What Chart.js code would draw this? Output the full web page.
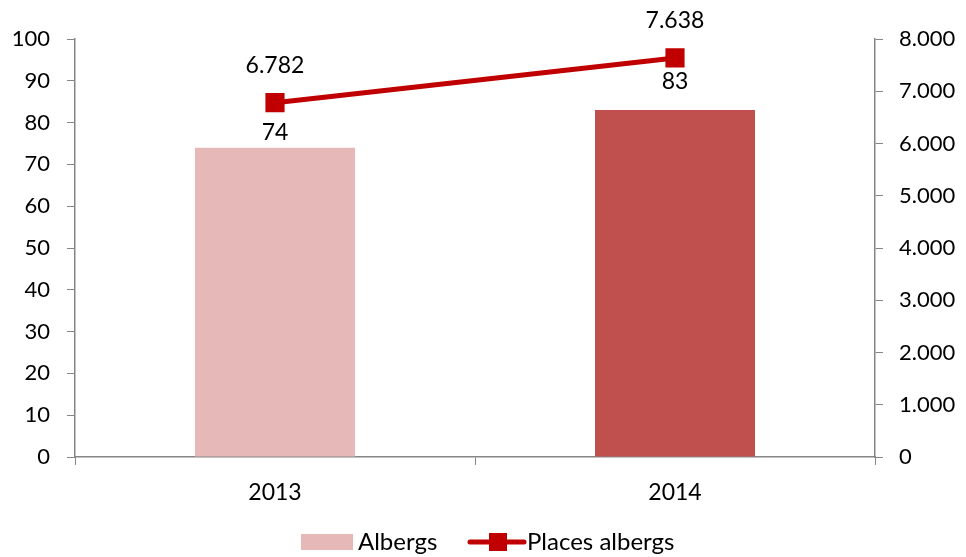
<!DOCTYPE html>
<html>
<head>
<meta charset="utf-8">
<script src="https://cdn.jsdelivr.net/npm/chart.js@4.4.1/dist/chart.umd.min.js"></script>
<style>
    html, body { margin: 0; padding: 0; background: #fff; }
    #wrap { width: 966px; height: 557px; position: relative; }
</style>
</head>
<body>
<div id="wrap"><canvas id="chart"></canvas></div>
<script>
const years = ['2013', '2014'];
const albergs = [74, 83];
const placesAlbergs = [6782, 7638];
const leftTicks = [0, 10, 20, 30, 40, 50, 60, 70, 80, 90, 100];
const rightTicks = [0, 1000, 2000, 3000, 4000, 5000, 6000, 7000, 8000];

const fontFamily = "Lato, 'Open Sans', sans-serif";
const axisColor = '#868686';
const lineColor = '#C00000';
const barColors = ['#E6B9B8', '#C0504D'];

function fmtThousands(v) {
    return v.toString().replace(/\B(?=(\d{3})+(?!\d))/g, '.');
}

// value labels on bars and line points
const valueLabels = {
    id: 'valueLabels',
    afterDatasetsDraw(chart) {
        const ctx = chart.ctx;
        ctx.save();
        ctx.font = '23px ' + fontFamily;
        ctx.fillStyle = '#000';
        ctx.textAlign = 'center';
        ctx.textBaseline = 'middle';
        const barOffsets = [15, 28];
        // dataset 0 = line, dataset 1 = bars
        chart.getDatasetMeta(1).data.forEach((el, i) => {
            ctx.fillText(albergs[i], el.x, el.y - barOffsets[i]);
        });
        chart.getDatasetMeta(0).data.forEach((el, i) => {
            ctx.fillText(fmtThousands(placesAlbergs[i]), el.x, el.y - 37);
        });
        ctx.restore();
    }
};

// legend drawn by hand: box for bars, line with square for the line series
const bottomLegend = {
    id: 'bottomLegend',
    afterDraw(chart) {
        const ctx = chart.ctx;
        const y = 542;
        ctx.save();
        ctx.font = '24px ' + fontFamily;
        ctx.textBaseline = 'middle';
        ctx.textAlign = 'left';
        ctx.fillStyle = barColors[0];
        ctx.fillRect(301, y - 8, 52, 16);
        ctx.fillStyle = '#000';
        ctx.fillText('Albergs', 358, y);
        ctx.strokeStyle = lineColor;
        ctx.lineWidth = 5;
        ctx.lineCap = 'round';
        ctx.beginPath();
        ctx.moveTo(470, y);
        ctx.lineTo(524, y);
        ctx.stroke();
        ctx.fillStyle = lineColor;
        ctx.fillRect(489, y - 9, 18, 18);
        ctx.fillStyle = '#000';
        ctx.fillText('Places albergs', 527, y);
        ctx.restore();
    }
};

Chart.defaults.font.family = fontFamily;
Chart.defaults.font.size = 22;
Chart.defaults.color = '#000';

const chart = new Chart(document.getElementById('chart'), {
    data: {
        labels: years,
        datasets: [
            {
                type: 'line',
                label: 'Places albergs',
                data: placesAlbergs,
                yAxisID: 'y2',
                borderColor: lineColor,
                backgroundColor: lineColor,
                borderWidth: 5,
                pointStyle: 'rect',
                pointRadius: 10,
                pointHoverRadius: 10,
                tension: 0,
                order: 0
            },
            {
                type: 'bar',
                label: 'Albergs',
                data: albergs,
                yAxisID: 'y',
                backgroundColor: barColors,
                categoryPercentage: 0.4,
                barPercentage: 1.0,
                order: 1
            }
        ]
    },
    options: {
        responsive: true,
        maintainAspectRatio: false,
        animation: false,
        layout: { padding: { top: 39, bottom: 50, left: 0, right: 0 } },
        plugins: {
            legend: { display: false },
            tooltip: { enabled: false }
        },
        scales: {
            x: {
                offset: true,
                grid: {
                    offset: true,
                    drawOnChartArea: false,
                    color: axisColor,
                    tickLength: 8,
                    tickColor: axisColor
                },
                border: { color: axisColor, width: 1.5 },
                ticks: { padding: 14, maxRotation: 0, font: { size: 23 } },
                afterFit(axis) { axis.height = 50; }
            },
            y: {
                position: 'left',
                min: 0,
                max: 100,
                afterBuildTicks(axis) { axis.ticks = leftTicks.map(v => ({ value: v })); },
                grid: { drawOnChartArea: false, tickLength: 8, color: axisColor },
                border: { color: axisColor, width: 1.5 },
                ticks: { padding: 17 },
                afterFit(axis) { axis.width = 75; }
            },
            y2: {
                position: 'right',
                min: 0,
                max: 8000,
                afterBuildTicks(axis) { axis.ticks = rightTicks.map(v => ({ value: v })); },
                grid: { drawOnChartArea: false, tickLength: 8, color: axisColor },
                border: { color: axisColor, width: 1.5 },
                ticks: { padding: 16, callback: v => fmtThousands(v) },
                afterFit(axis) { axis.width = 91; }
            }
        }
    },
    plugins: [valueLabels, bottomLegend]
});
</script>
</body>
</html>
